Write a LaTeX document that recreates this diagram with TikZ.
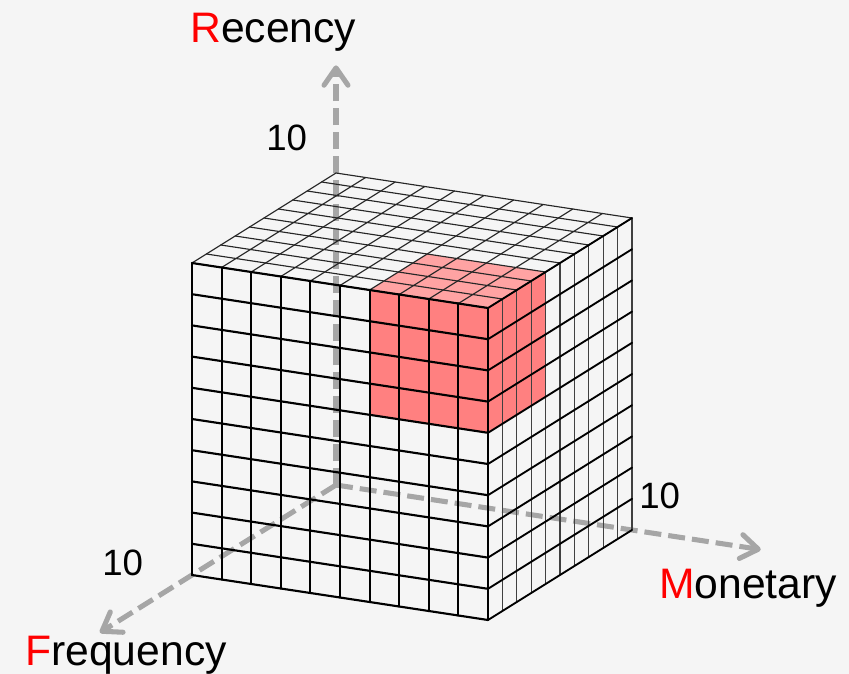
\documentclass[tikz,border=0pt]{standalone}
\usepackage{fontspec}
\setmainfont{Liberation Sans}
\usetikzlibrary{arrows.meta}
\definecolor{bg}{HTML}{F5F5F5}
\definecolor{axisgray}{HTML}{A6A6A6}
\definecolor{pinkfront}{HTML}{FF8080}
\definecolor{pinktop}{HTML}{FFA3A3}
\definecolor{keyred}{HTML}{FF0000}
\begin{document}
\begin{tikzpicture}[x=0.75pt,y=-0.75pt,
  axisline/.style={draw=axisgray, line width=3.8pt, dash pattern=on 12.75pt off 5.25pt,
    -{Straight Barb[length=13pt,width=18pt,line cap=round,line join=round]}},
  frontline/.style={draw=black, line width=1.6pt, line cap=round},
  rightline/.style={draw=black, line width=1.4pt, line cap=round},
  rightvline/.style={draw=black!75, line width=0.8pt},
  topline/.style={draw=black!85, line width=0.85pt, line cap=round},
  axislabel/.style={anchor=base west, inner sep=0pt, font=\fontsize{32}{36}\selectfont},
  numlabel/.style={anchor=base west, inner sep=0pt, font=\fontsize{27.5}{32}\selectfont}]
\fill[bg] (0,0) rectangle (849,674);
\useasboundingbox (0,0) rectangle (849,674);
\begin{scope}[shift={(192,575)}, x={(22.2pt,-3.375pt)}, y={(10.8pt,6.75pt)}, z={(0pt,23.4pt)}]
  % axes
  \coordinate (O) at (0,10,0);
  \coordinate (Rtip) at (0,10,13.45);
  \coordinate (Mtip) at (14.35,10,0);
  \coordinate (Ftip) at (0,-6.4,0);
  \draw[axisline] (O) -- (Rtip);
  \draw[axisline] (O) -- (Mtip);
  \draw[axisline] (O) -- (Ftip);
  % highlighted corner block
  \fill[pinkfront] (6,0,6) -- (10,0,6) -- (10,0,10) -- (6,0,10) -- cycle;
  \fill[pinktop] (6,0,10) -- (10,0,10) -- (10,4,10) -- (6,4,10) -- cycle;
  \fill[pinkfront] (10,0,6) -- (10,4,6) -- (10,4,10) -- (10,0,10) -- cycle;
  % top face
  \foreach \t in {0,...,10} {
    \draw[topline] (\t,0,10) -- (\t,10,10);
    \draw[topline] (0,\t,10) -- (10,\t,10);
  }
  % right face
  \foreach \t in {1,...,10} {
    \draw[rightvline] (10,\t,0) -- (10,\t,10);
  }
  \foreach \t in {0,...,10} {
    \draw[rightline] (10,0,\t) -- (10,10,\t);
  }
  % front face
  \foreach \t in {0,...,10} {
    \draw[frontline] (\t,0,0) -- (\t,0,10);
    \draw[frontline] (0,0,\t) -- (10,0,\t);
  }
\end{scope}
\node[axislabel] (recency) at (190,43) {\textcolor{keyred}{R}ecency};
\node[axislabel] (monetary) at (659,598) {\textcolor{keyred}{M}onetary};
\node[axislabel] (frequency) at (25,665) {\textcolor{keyred}{F}requency};
\node[numlabel] (rten) at (266,150) {10};
\node[numlabel] (mten) at (639,508) {10};
\node[numlabel] (ften) at (102,575) {10};
\end{tikzpicture}
\end{document}
